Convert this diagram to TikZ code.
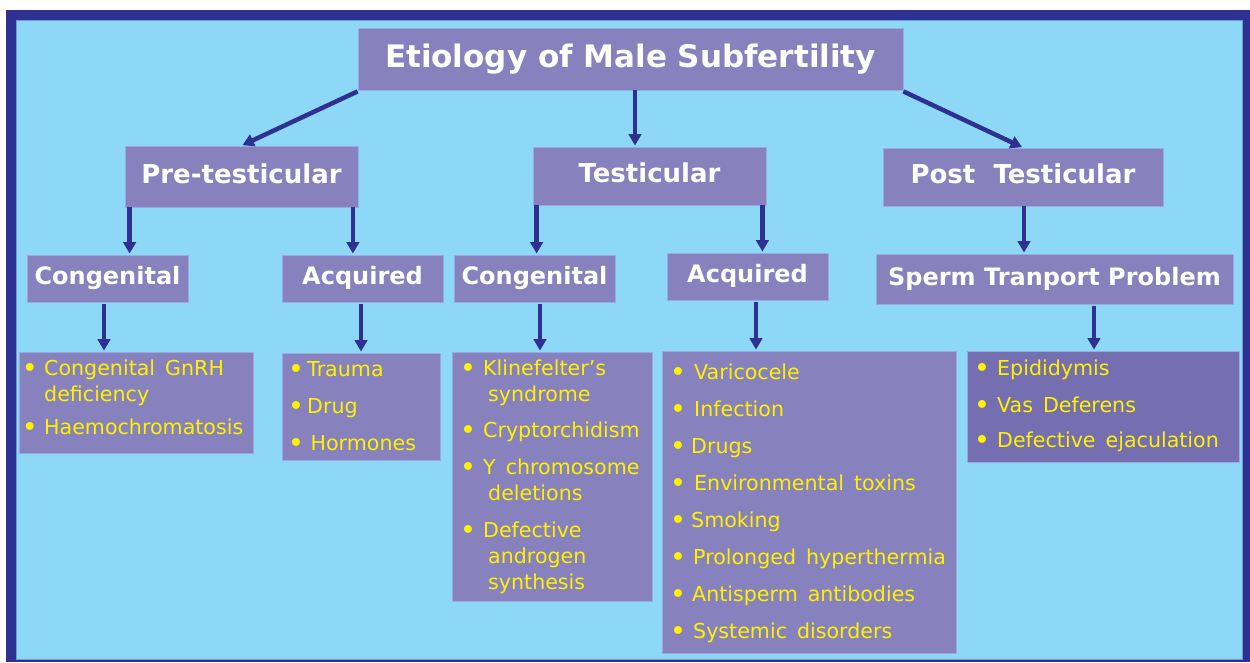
\documentclass[tikz,border=0pt]{standalone}
\usepackage{fontspec}
\setmainfont{DejaVu Sans}
\usetikzlibrary{arrows.meta}
\definecolor{navy}{HTML}{2E3192}
\definecolor{skyfill}{HTML}{8DD8F7}
\definecolor{skyedge}{HTML}{6A9BDD}
\definecolor{boxfill}{HTML}{8782BD}
\definecolor{boxdark}{HTML}{756FB2}
\definecolor{boxedge}{HTML}{9AA8E3}
\definecolor{ytext}{HTML}{FFF200}
\newcommand\listfont{\fontsize{20.6}{26}\selectfont\spaceskip=10pt plus 2pt\relax}
\newcommand\mybul[1]{\rule{0pt}{16pt}\makebox[#1][l]{\hspace*{-1pt}\raisebox{-2.2pt}{\fontsize{27}{27}\selectfont\textbullet}}}
\newcommand\myind[1]{\hspace*{#1}}
\tikzset{
  box/.style={rectangle, fill=boxfill, draw=boxedge, line width=0.8pt, inner sep=0pt},
  titlebox/.style={box, text=white, font=\fontsize{31}{36}\selectfont\bfseries, text height=23.6pt, text depth=7.4pt},
  headA/.style={box, text=white, font=\fontsize{26}{30}\selectfont\bfseries, text height=19.8pt, text depth=6.2pt},
  headB/.style={box, text=white, font=\fontsize{24}{28}\selectfont\bfseries, text height=18.2pt, text depth=5.8pt},
  listtext/.style={anchor=north west, inner sep=0pt, align=left, text=ytext, font=\listfont},
  arr/.style={-{Triangle[width=12.5pt,length=11.5pt]}, line width=4.5pt, draw=navy, shorten >=1pt}
}
\begin{document}
\begin{tikzpicture}[x=1pt,y=-1pt]
\useasboundingbox (0,0) rectangle (1250,662);
\fill[white] (0,0) rectangle (1250,662);
\fill[navy] (6,10) rectangle (1250,662);
\filldraw[fill=skyfill, draw=skyedge, line width=1pt] (16,20) rectangle (1242,659);

% top
\node[titlebox, minimum width=545pt, minimum height=62pt] (title) at (630.5,59) {Etiology of Male Subfertility};
% level 1
\node[headA, minimum width=233pt, minimum height=61pt] (pre) at (241.5,176.5) {Pre-testicular};
\node[headA, minimum width=233pt, minimum height=58pt] (test) at (649.5,176) {Testicular};
\node[headA, minimum width=280pt, minimum height=58pt] (post) at (1023,177) {Post\hspace{0.35em} Testicular};
% level 2
\node[headB, minimum width=161pt, minimum height=47pt] (cong1) at (107.5,278.5) {Congenital};
\node[headB, minimum width=161pt, minimum height=47pt] (acq1) at (362.5,278.5) {Acquired};
\node[headB, minimum width=161pt, minimum height=47pt] (cong2) at (534.5,278.5) {Congenital};
\node[headB, minimum width=161pt, minimum height=47pt] (acq2) at (747.5,276.5) {Acquired};
\node[headB, minimum width=357pt, minimum height=50pt] (sperm) at (1054.5,279) {Sperm Tranport Problem};
% level 3 boxes
\node[box, minimum width=234pt, minimum height=101pt] (l1) at (136,402.5) {};
\node[box, minimum width=158pt, minimum height=107pt] (l2) at (361,406.5) {};
\node[box, minimum width=200pt, minimum height=249pt] (l3) at (552,476.5) {};
\node[box, minimum width=294pt, minimum height=302pt] (l4) at (809,502) {};
\node[box, fill=boxdark, minimum width=272pt, minimum height=111pt] (l5) at (1103,406.5) {};

% list texts
\node[listtext] (l1t) at (22.6,359) {\mybul{21.4pt}Congenital GnRH\\\myind{21.4pt}deficiency\\[7pt]\mybul{21.4pt}Haemochromatosis};
\node[listtext] (l2t) at (289,360) {\mybul{18pt}Trauma\\[11pt]\mybul{18pt}Drug\\[11pt]\mybul{18pt}\,Hormones};
\node[listtext] (l3t) at (461,359) {\mybul{22pt}Klinefelter’s\\\myind{27pt}syndrome\\[10pt]\mybul{22pt}Cryptorchidism\\[11pt]\mybul{22pt}Y chromosome\\\myind{27pt}deletions\\[11pt]\mybul{22pt}Defective\\\myind{27pt}androgen\\\myind{27pt}synthesis};
\node[listtext] (l4t) at (671,363) {\mybul{23pt}Varicocele\\[11pt]\mybul{23pt}Infection\\[11pt]\mybul{20pt}Drugs\\[11pt]\mybul{23pt}Environmental toxins\\[11pt]\mybul{20pt}Smoking\\[11pt]\mybul{22pt}Prolonged hyperthermia\\[11pt]\mybul{21pt}Antisperm antibodies\\[11pt]\mybul{22pt}Systemic disorders};
\node[listtext] (l5t) at (975,359) {\mybul{22pt}Epididymis\\[11pt]\mybul{22pt}Vas Deferens\\[9pt]\mybul{22pt}Defective ejaculation};

% arrows
\draw[arr] ([yshift=-1pt]title.south west) -- (pre.north);
\draw[arr] ([xshift=4.5pt]title.south) -- ([xshift=4.5pt]title.south |- test.north);
\draw[arr] ([yshift=-1pt]title.south east) -- (post.north);
\draw[arr] ([xshift=5pt]pre.south west) -- ([xshift=5pt]pre.south west |- cong1.north);
\draw[arr] ([xshift=-5.5pt]pre.south east) -- ([xshift=-5.5pt]pre.south east |- acq1.north);
\draw[arr] ([xshift=4pt]test.south west) -- ([xshift=4pt]test.south west |- cong2.north);
\draw[arr] ([xshift=-4pt]test.south east) -- ([xshift=-4pt]test.south east |- acq2.north);
\draw[arr] ([xshift=1pt]post.south) -- ([xshift=1pt]post.south |- sperm.north);
\draw[arr, shorten <=2pt] ([xshift=-3.5pt]cong1.south) -- ([xshift=-3.5pt]cong1.south |- l1.north);
\draw[arr, shorten <=2pt] ([xshift=-1.5pt]acq1.south) -- ([xshift=-1.5pt]acq1.south |- l2.north);
\draw[arr, shorten <=2pt] ([xshift=5.5pt]cong2.south) -- ([xshift=5.5pt]cong2.south |- l3.north);
\draw[arr, shorten <=2pt] ([xshift=8.5pt]acq2.south) -- ([xshift=8.5pt]acq2.south |- l4.north);
\draw[arr, shorten <=2pt] ([xshift=39.5pt]sperm.south) -- ([xshift=39.5pt]sperm.south |- l5.north);
\end{tikzpicture}
\end{document}
